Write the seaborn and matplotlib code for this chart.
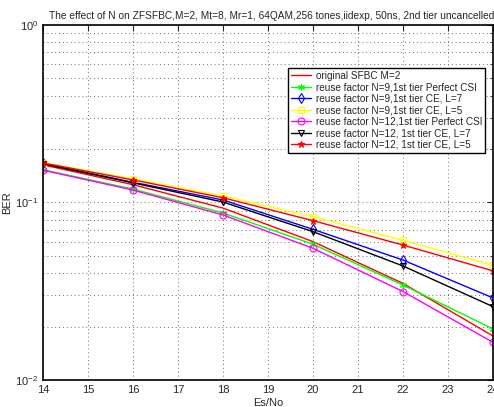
import matplotlib
matplotlib.use("Agg")
import matplotlib.pyplot as plt
import seaborn as sns
import pandas as pd

es_no = [14, 16, 18, 20, 22, 24]

ber_original = [0.163, 0.126, 0.093, 0.0602, 0.0350, 0.0177]
ber_n9_perfect = [0.153, 0.119, 0.0873, 0.0582, 0.0343, 0.0194]
ber_n9_ce_l7 = [0.166, 0.130, 0.1033, 0.0706, 0.0474, 0.0290]
ber_n9_ce_l5 = [0.168, 0.136, 0.1088, 0.0832, 0.0612, 0.0443]
ber_n12_perfect = [0.152, 0.1175, 0.0851, 0.0552, 0.0315, 0.0163]
ber_n12_ce_l7 = [0.165, 0.129, 0.1006, 0.0685, 0.0439, 0.0259]
ber_n12_ce_l5 = [0.167, 0.134, 0.1064, 0.0790, 0.0576, 0.0412]

labels = [
    "original SFBC M=2",
    "reuse factor N=9,1st tier Perfect CSI",
    "reuse factor N=9,1st tier CE, L=7",
    "reuse factor N=9,1st tier CE, L=5",
    "reuse factor N=12,1st tier Perfect CSI",
    "reuse factor N=12, 1st tier CE, L=7",
    "reuse factor N=12, 1st tier CE, L=5",
]
series = [ber_original, ber_n9_perfect, ber_n9_ce_l7, ber_n9_ce_l5,
          ber_n12_perfect, ber_n12_ce_l7, ber_n12_ce_l5]

# line styles (colour, marker, filled marker?)
styles = [
    ("#ff0000", None, False),
    ("#00ff00", (6, 2, 0), False),
    ("#0000ff", "d", False),
    ("#ffff00", "s", False),
    ("#ff00ff", "o", False),
    ("#000000", "v", False),
    ("#ff0000", "*", True),
]

sns.set_style("white")
plt.rcParams["font.family"] = ["Liberation Sans", "DejaVu Sans"]

fig = plt.figure(figsize=(4.94, 4.07), dpi=100)
ax = fig.add_axes([43 / 494, 27 / 407, 450 / 494, 355 / 407])

for lab, vals, (col, mk, filled) in zip(labels, series, styles):
    df = pd.DataFrame({"Es/No": es_no, "BER": vals})
    kw = dict(color=col, linewidth=1.0, label=lab)
    if mk is not None:
        kw.update(marker=mk, markersize=5, markeredgecolor=col,
                  markerfacecolor=col if filled else "none", markeredgewidth=0.8)
    sns.lineplot(data=df, x="Es/No", y="BER", ax=ax, **kw)

ax.set_yscale("log")
ax.set_xlim(14, 24)
ax.set_ylim(1e-2, 1)
ax.set_xticks(range(14, 25))
grid_kw = dict(linestyle=(0, (1, 3)), color="#707070", linewidth=0.7)
ax.grid(True, which="major", **grid_kw)
ax.grid(True, which="minor", axis="y", **grid_kw)
ax.tick_params(which="both", direction="in", top=True, right=True, labelsize=8)
ax.tick_params(which="major", length=4)
ax.tick_params(which="minor", length=2)
for s in ax.spines.values():
    s.set_color("black")
    s.set_linewidth(1.2)

ax.set_xlabel("Es/No", fontsize=8, labelpad=2)
ax.set_ylabel("BER", fontsize=8, labelpad=2)
ax.set_title("The effect of N on ZFSFBC,M=2, Mt=8, Mr=1, 64QAM,256 tones,iidexp, 50ns, 2nd tier uncancelled",
             fontsize=7.3, pad=4, x=0.014, ha="left")

leg = ax.legend(loc="upper left", bbox_to_anchor=(0.533, 0.893), fontsize=7.2,
                frameon=True, fancybox=False, edgecolor="black", framealpha=1,
                labelspacing=0.15, handlelength=2.0, borderpad=0.3, handletextpad=0.5)
leg.get_frame().set_linewidth(1.0)

fig.savefig("out.png", dpi=100)
